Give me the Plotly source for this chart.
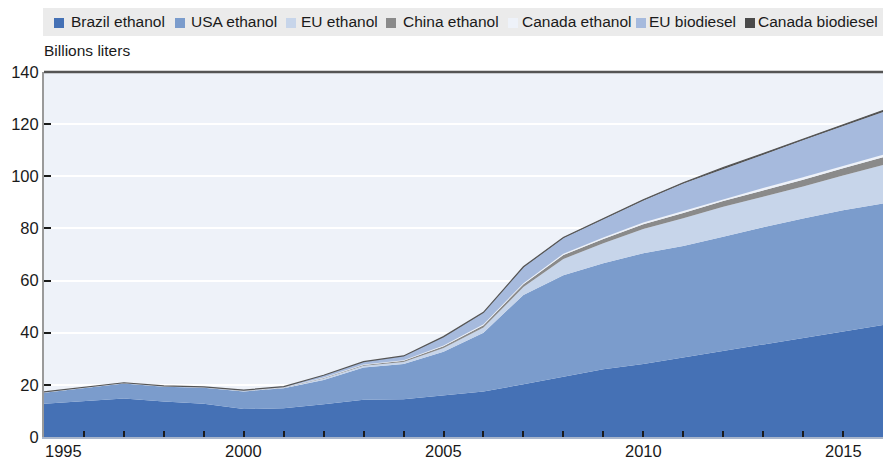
import plotly.graph_objects as go

# ---------------- data ----------------
years = list(range(1995, 2017))

brazil_ethanol = [12.8, 13.9, 14.8, 13.6, 12.8, 10.7, 11.0, 12.6, 14.3, 14.5, 16.0,
                  17.5, 20.2, 23.1, 26.0, 28.0, 30.5, 33.0, 35.5, 38.0, 40.5, 43.0]
usa_ethanol = [4.2, 4.8, 5.7, 5.7, 6.1, 6.8, 7.7, 9.3, 12.4, 13.5, 16.7,
               22.5, 34.3, 38.9, 40.6, 42.5, 42.8, 43.8, 45.0, 45.8, 46.5, 46.6]
eu_ethanol = [0.1, 0.1, 0.1, 0.1, 0.1, 0.1, 0.2, 0.5, 0.6, 0.8, 1.4,
              2.0, 3.0, 6.3, 7.7, 9.3, 10.6, 11.5, 11.7, 12.3, 13.3, 14.7]
china_ethanol = [0.0, 0.0, 0.0, 0.0, 0.0, 0.1, 0.1, 0.2, 0.3, 0.4, 0.7,
                 0.9, 1.1, 1.5, 1.6, 1.8, 2.0, 2.2, 2.4, 2.6, 2.8, 3.0]
canada_ethanol = [0.1, 0.1, 0.1, 0.1, 0.1, 0.1, 0.1, 0.2, 0.2, 0.2, 0.3,
                  0.3, 0.4, 0.5, 0.6, 0.7, 0.8, 0.8, 0.9, 0.9, 1.0, 1.0]
eu_biodiesel = [0.1, 0.1, 0.1, 0.1, 0.1, 0.2, 0.2, 0.9, 1.1, 1.7, 3.3,
                4.5, 6.1, 6.0, 7.1, 8.4, 10.5, 11.6, 12.8, 14.3, 15.3, 16.4]
canada_biodiesel = [0.0, 0.0, 0.0, 0.0, 0.0, 0.0, 0.0, 0.0, 0.0, 0.0, 0.1,
                    0.1, 0.2, 0.2, 0.3, 0.3, 0.3, 0.4, 0.4, 0.4, 0.4, 0.5]

series_names = ["Brazil ethanol", "USA ethanol", "EU ethanol", "China ethanol",
                "Canada ethanol", "EU biodiesel", "Canada biodiesel"]
series_values = [brazil_ethanol, usa_ethanol, eu_ethanol, china_ethanol,
                 canada_ethanol, eu_biodiesel, canada_biodiesel]

y_title = "Billions liters"
x_label_years = [1995, 2000, 2005, 2010, 2015]
y_ticks = [0, 20, 40, 60, 80, 100, 120, 140]

# ---------------- styles ----------------
colors = ["#4571b5", "#7b9ccc", "#c7d5ea", "#8a8a8a", "#eef2f9", "#a6badd", "#4a4a4a"]
line_widths = [0, 0, 0, 0, 0, 0, 1.2]
FONT = "Liberation Sans, Arial, Helvetica, sans-serif"
W, H = 883, 460
L, R, T, B = 44, 0, 72, 23
PW, PH = W - L - R, H - T - B
TICK_FS = 16.5
LEG_FS = 15.5


def px_x(px):
    return (px - L) / PW


def px_y(py):
    return (H - B - py) / PH


fig = go.Figure()
for name, vals, col, lw in zip(series_names, series_values, colors, line_widths):
    fig.add_trace(go.Scatter(
        x=years, y=vals, name=name, mode="lines", stackgroup="one",
        line=dict(width=lw, color=col if lw == 0 else "#555555"),
        fillcolor=col, showlegend=False, hoverinfo="x+y+name",
    ))

# x ticks: every year inside; labels at 5-year marks drawn as text below the axis
tickvals = years[1:-1]

fig.update_layout(
    width=W, height=H,
    margin=dict(l=L, r=R, t=T, b=B, autoexpand=False),
    paper_bgcolor="white",
    plot_bgcolor="#eef2f9",
    font=dict(family=FONT, size=16, color="#1a1a1a"),
    showlegend=False,
    xaxis=dict(
        range=[1995, 2016], tickvals=tickvals, showticklabels=False,
        ticks="inside", ticklen=6, tickwidth=2, tickcolor="#1a1a1a",
        showgrid=False, zeroline=False,
        showline=True, linecolor="#a9b6cb", linewidth=2, automargin=False,
    ),
    yaxis=dict(
        range=[0, 140], tickvals=y_ticks,
        ticks="inside", ticklen=7, tickwidth=2, tickcolor="#1a1a1a",
        showgrid=True, gridcolor="white", gridwidth=2,
        zeroline=False, showline=True, linecolor="#9a9a9a", linewidth=2,
        tickfont=dict(size=TICK_FS), automargin=False,
    ),
)

shapes = []
annotations = []
# top border of plot
shapes.append(dict(type="line", xref="paper", yref="paper", x0=0, x1=1, y0=1, y1=1,
                   line=dict(color="#555555", width=2.5), layer="above"))
# legend background
shapes.append(dict(type="rect", xref="paper", yref="paper",
                   x0=px_x(43), x1=px_x(883), y0=px_y(36), y1=px_y(8),
                   fillcolor="#ebebeb", line=dict(width=0), layer="above"))
marker_lefts = [54, 175, 286, 386, 508, 636, 745]
text_lefts = [69, 189, 299, 401, 520, 647, 756]
for name, col, mx, tx in zip(series_names, colors, marker_lefts, text_lefts):
    shapes.append(dict(type="rect", xref="paper", yref="paper",
                       x0=px_x(mx), x1=px_x(mx + 10), y0=px_y(28), y1=px_y(18),
                       fillcolor=col, line=dict(width=0), layer="above"))
    annotations.append(dict(text=name, xref="paper", yref="paper",
                            x=px_x(tx), y=px_y(22), xanchor="left", yanchor="middle",
                            showarrow=False, font=dict(size=LEG_FS, color="#1a1a1a")))

annotations.append(dict(text=y_title, xref="paper", yref="paper",
                        x=px_x(42), y=px_y(51), xanchor="left", yanchor="middle",
                        showarrow=False, font=dict(size=LEG_FS, color="#1a1a1a")))
# x-axis year labels (1995 label sits slightly right of the axis corner)
for yr in x_label_years:
    annotations.append(dict(text=str(yr), xref="x", yref="paper",
                            x=yr + 0.5 if yr == 1995 else yr, y=px_y(450.5),
                            xanchor="center", yanchor="middle", showarrow=False,
                            font=dict(size=TICK_FS, color="#1a1a1a")))

fig.update_layout(shapes=shapes, annotations=annotations)
fig.write_html("out.html", config={"displayModeBar": False},
               post_script="document.body.style.margin='0';document.body.style.padding='0';")
